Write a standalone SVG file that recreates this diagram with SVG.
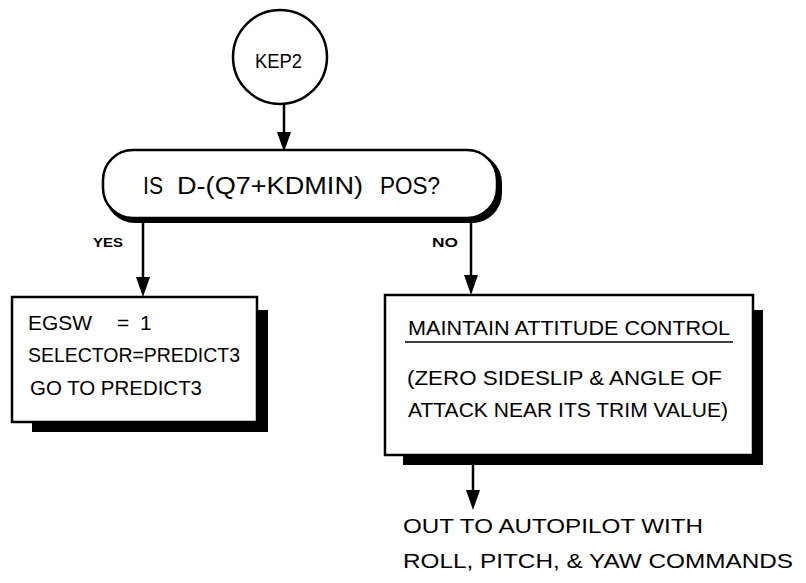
<svg xmlns="http://www.w3.org/2000/svg" width="806" height="583" viewBox="0 0 806 583">
<style>
.ln{stroke:#000;stroke-width:2.5;fill:none}
.bx{fill:#fff;stroke:#000;stroke-width:2.5}
.sh{fill:#000}
.t{font-family:"Liberation Sans","DejaVu Sans",sans-serif;font-size:21px;fill:#000}
.lb{font-family:"Liberation Sans","DejaVu Sans",sans-serif;font-size:12px;font-weight:bold;fill:#000}
</style>
<rect width="806" height="583" fill="#fff"/>
<g id="connectors">
<line class="ln" x1="284" y1="104" x2="284" y2="132"/><path d="M277,132 L291,132 L284,152 Z"/>
<line class="ln" x1="143" y1="222" x2="143" y2="277"/><path d="M136,277 L150,277 L143,297 Z"/>
<line class="ln" x1="471" y1="222" x2="471" y2="275"/><path d="M464,275 L478,275 L471,295 Z"/>
<line class="ln" x1="473" y1="465" x2="473" y2="490"/><path d="M466,490 L480,490 L473,510 Z"/>
<text class="lb" x="93" y="247" textLength="30" lengthAdjust="spacingAndGlyphs">YES</text>
<text class="lb" x="432" y="247" textLength="26" lengthAdjust="spacingAndGlyphs">NO</text>
</g>
<g id="kep2">
<circle class="bx" cx="280" cy="57" r="47"/>
<text class="t" x="255" y="68" textLength="47" lengthAdjust="spacingAndGlyphs">KEP2</text>
</g>
<g id="decision">
<rect class="sh" x="105" y="153" width="397" height="70" rx="30"/>
<rect class="bx" x="103" y="150" width="394" height="68" rx="30"/>
<text class="t" style="font-size:23px" y="194"><tspan x="143" textLength="20" lengthAdjust="spacingAndGlyphs">IS</tspan><tspan x="177" textLength="186" lengthAdjust="spacingAndGlyphs">D-(Q7+KDMIN)</tspan><tspan x="380" textLength="60" lengthAdjust="spacingAndGlyphs">POS?</tspan></text>
</g>
<g id="yesbox">
<rect class="sh" x="32" y="310" width="236" height="122"/>
<rect class="bx" x="12" y="297" width="245" height="125"/>
<text class="t" y="330"><tspan x="28" textLength="64" lengthAdjust="spacingAndGlyphs">EGSW</tspan><tspan x="117">=</tspan><tspan x="140">1</tspan></text>
<text class="t" x="28" y="362" textLength="212" lengthAdjust="spacingAndGlyphs">SELECTOR=PREDICT3</text>
<text class="t" x="30" y="395" textLength="172" lengthAdjust="spacingAndGlyphs">GO TO PREDICT3</text>
</g>
<g id="nobox">
<rect class="sh" x="403" y="310" width="360" height="155"/>
<rect class="bx" x="385" y="295" width="368" height="160"/>
<text class="t" x="408" y="335" textLength="322" lengthAdjust="spacingAndGlyphs">MAINTAIN ATTITUDE CONTROL</text>
<line x1="405" y1="342" x2="733" y2="342" stroke="#000" stroke-width="1.5"/>
<text class="t" x="407" y="385" textLength="315" lengthAdjust="spacingAndGlyphs">(ZERO SIDESLIP &amp; ANGLE OF</text>
<text class="t" x="408" y="417" textLength="320" lengthAdjust="spacingAndGlyphs">ATTACK NEAR ITS TRIM VALUE)</text>
</g>
<g id="out">
<text class="t" x="403" y="533" textLength="300" lengthAdjust="spacingAndGlyphs">OUT TO AUTOPILOT  WITH</text>
<text class="t" x="403" y="568" textLength="390" lengthAdjust="spacingAndGlyphs">ROLL,  PITCH,  &amp;  YAW  COMMANDS</text>
</g>
</svg>
